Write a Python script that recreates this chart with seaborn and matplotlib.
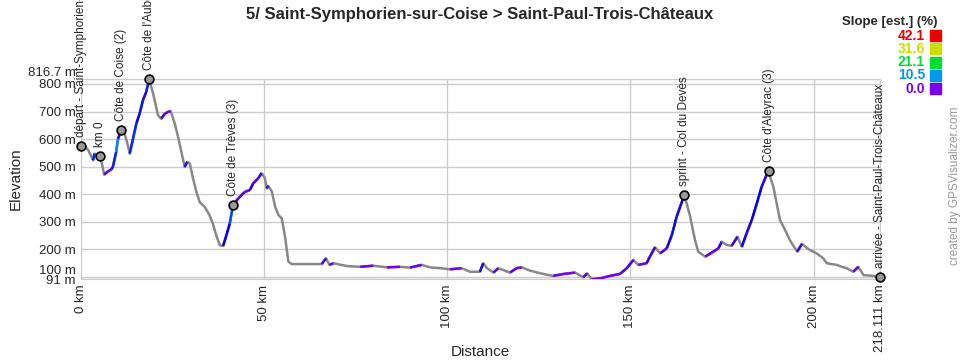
import numpy as np
import pandas as pd
import matplotlib
matplotlib.use("Agg")
import matplotlib.pyplot as plt
from matplotlib.collections import LineCollection
from matplotlib.colors import hsv_to_rgb
from matplotlib.patches import Rectangle
import seaborn as sns

# profile (km, m)
distance_km = [0.0, 1.0, 1.9, 3.3, 3.7, 5.3, 6.0, 6.3, 7.4, 8.3, 8.7, 9.6, 10.1, 11.0,
               11.9, 12.8, 13.3, 14.2, 15.1, 16.0, 16.9, 17.8, 18.6, 19.7, 21.0, 21.9,
               22.9, 23.8, 24.5, 25.6, 26.5, 27.4, 28.3, 29.0, 29.7, 30.6, 31.5, 32.4,
               33.8, 35.1, 36.0, 36.9, 37.9, 38.8, 39.7, 40.6, 41.5, 42.9, 44.7, 46.1,
               47.0, 48.4, 49.3, 50.2, 50.7, 51.1, 52.1, 53.0, 53.9, 54.8, 55.7, 56.6,
               57.5, 61.6, 65.7, 66.9, 67.8, 68.9, 72.5, 76.2, 79.8, 83.5, 87.1, 89.8,
               93.0, 95.3, 98.0, 100.7, 103.9, 106.2, 108.9, 109.8, 110.8, 112.6, 113.9,
               115.3, 117.1, 118.9, 120.3, 122.6, 126.2, 128.9, 131.7, 134.9, 137.1,
               138.2, 139.4, 141.7, 144.4, 147.1, 149.0, 150.8, 152.1, 154.4, 155.3,
               156.7, 158.1, 159.9, 161.3, 162.6, 164.7, 166.3, 167.6, 168.5, 170.4,
               172.6, 174.0, 174.9, 176.3, 177.6, 179.2, 180.4, 181.7, 183.1, 184.5,
               185.8, 187.6, 189.0, 190.8, 192.2, 193.5, 195.5, 196.8, 198.6, 200.8,
               202.6, 203.6, 206.3, 207.7, 209.0, 210.8, 212.2, 213.6, 216.3, 218.111]
elevation_m = [575, 572, 562, 523, 547, 538, 492, 471, 483, 490, 499, 553, 601, 632,
               620, 577, 547, 601, 656, 692, 741, 771, 817, 765, 687, 674,
               692, 699, 701, 656, 608, 553, 499, 517, 511, 456, 408, 371,
               353, 323, 293, 251, 214, 212, 251, 293, 360, 384, 408, 415,
               439, 458, 476, 458, 421, 430, 409, 354, 324, 312, 245, 155,
               146, 146, 146, 167, 143, 149, 139, 136, 140, 134, 136, 133,
               143, 134, 131, 127, 131, 118, 118, 149, 131, 115, 131,
               124, 115, 131, 134, 122, 110, 103, 110, 115, 98,
               112, 91, 94, 103, 110, 131, 161, 143, 149, 173,
               207, 185, 203, 252, 318, 397, 318, 233, 191, 173,
               191, 203, 227, 215, 212, 245, 209, 258, 306, 367,
               427, 484, 427, 306, 270, 233, 191, 219, 200, 185,
               167, 149, 143, 136, 131, 118, 136, 106, 103, 99]

wp_names = ["départ - Saint-Symphorien-sur-Coise", "km 0", "Côte de Coise (2)",
            "Côte de l'Aubépin (2)", "Côte de Trèves (3)", "sprint - Col du Devès",
            "Côte d'Aleyrac (3)", "arrivée - Saint-Paul-Trois-Châteaux"]
wp_km = [0.0, 5.3, 11.0, 18.6, 41.5, 164.7, 187.7, 218.111]
wp_elev = [575, 538, 632, 817, 360, 397, 484, 99]

x_ticks = [0, 50, 100, 150, 200, 218.111]
x_tick_labels = ["0 km", "50 km", "100 km", "150 km", "200 km", "218.111 km"]
y_ticks = [91, 100, 200, 300, 400, 500, 600, 700, 800, 816.7]
y_tick_labels = ["91 m", "100 m", "200 m", "300 m", "400 m", "500 m", "600 m",
                 "700 m", "800 m", "816.7 m"]

slope_stops = [42.1, 31.6, 21.1, 10.5, 0.0]
slope_colors = ["#ee0000", "#ccdd00", "#00dd33", "#0099ee", "#7700ee"]
slope_hues = [0, 64, 134, 201, 270]

sns.set_style("white")
plt.rcParams["font.family"] = ["Liberation Sans", "DejaVu Sans"]

df = pd.DataFrame({"km": distance_km, "elev": elevation_m})

fig = plt.figure(figsize=(9.6, 3.6), dpi=100)
ax = fig.add_axes([81 / 960, 1 - 279.2 / 360, 799 / 960, 199.8 / 360])

sns.lineplot(data=df, x="km", y="elev", ax=ax, color="#888888", lw=1.8,
             zorder=3, estimator=None, sort=False)

# climbing segments coloured by slope
km = np.array(distance_km)
el = np.array(elevation_m, dtype=float)
segs, cols = [], []
for i in range(len(km) - 1):
    dz = el[i + 1] - el[i]
    if dz <= 0:
        continue
    slope = dz / ((km[i + 1] - km[i]) * 1000) * 100
    hue = np.interp(slope, slope_stops[::-1], slope_hues[::-1])
    segs.append([(km[i], el[i]), (km[i + 1], el[i + 1])])
    cols.append(hsv_to_rgb((hue / 360, 1.0, 0.95)))
ax.add_collection(LineCollection(segs, colors=cols, linewidths=1.8, zorder=4))

sns.scatterplot(x=wp_km, y=wp_elev, ax=ax, s=40, color="#999999",
                edgecolor="black", linewidth=1.2, zorder=6, clip_on=False)
for name, k, e in zip(wp_names, wp_km, wp_elev):
    ax.annotate(name, (k, e), xytext=(0, 6.5), textcoords="offset points",
                rotation=90, ha="center", va="bottom", fontsize=8.5,
                annotation_clip=False)

ax.set_xlim(0, 218.111)
ax.set_ylim(91, 816.7)
ax.set_xticks(x_ticks)
ax.set_xticklabels(x_tick_labels, rotation=90, fontsize=9.5)
ax.set_yticks(y_ticks)
ax.set_yticklabels(y_tick_labels, fontsize=9.5)
ax.tick_params(length=0, pad=4)
for lab in ax.get_yticklabels():
    if lab.get_text() in ("816.7 m", "100 m"):
        lab.set_va("bottom")
ax.grid(True, color="#cccccc", lw=1)
for sp in ax.spines.values():
    sp.set_color("#cccccc")
ax.set_xlabel("")
ax.set_ylabel("")

fig.text(0.5, 1 - 14 / 360, "5/ Saint-Symphorien-sur-Coise > Saint-Paul-Trois-Châteaux",
         ha="center", va="center", fontsize=12, fontweight="bold")
fig.text(480 / 960, 1 - 352 / 360, "Distance", ha="center", va="center", fontsize=11)
fig.text(16 / 960, 1 - 179 / 360, "Elevation", ha="center", va="center",
         rotation=90, fontsize=11)

# slope legend
fig.text(937 / 960, 1 - 22 / 360, "Slope [est.] (%)", ha="right", va="center",
         fontsize=9.5, fontweight="bold")
for j, (v, c) in enumerate(zip(slope_stops, slope_colors)):
    yc = 35.5 + j * 13.3
    fig.text(925 / 960, 1 - yc / 360, f"{v:.1f}", ha="right", va="center",
             fontsize=10, fontweight="bold", color=c)
    fig.add_artist(Rectangle((930 / 960, 1 - (yc + 5.5) / 360), 11 / 960, 11 / 360,
                             transform=fig.transFigure, color=c))

fig.text(955 / 960, 1 - 186 / 360, "created by GPSVisualizer.com", rotation=90,
         ha="center", va="center", fontsize=8.5, color="#999999")

fig.savefig("out.png", dpi=100)
